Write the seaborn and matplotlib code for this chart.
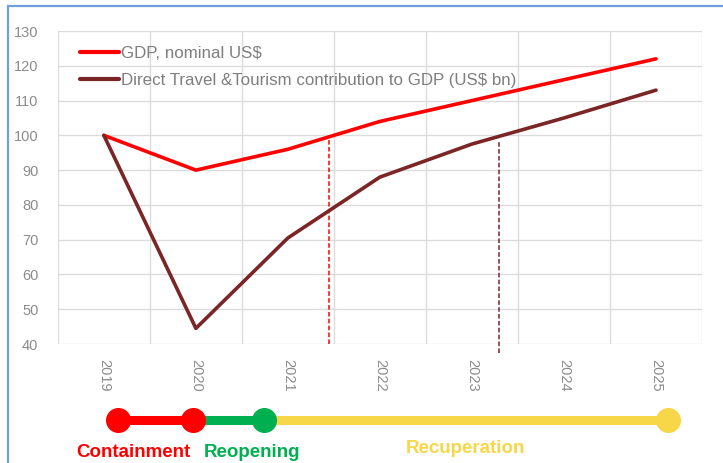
import matplotlib
matplotlib.use("Agg")
import matplotlib.pyplot as plt
import seaborn as sns
import pandas as pd
from matplotlib.patches import Rectangle

years = ["2019", "2020", "2021", "2022", "2023", "2024", "2025"]
gdp = [100, 90, 96, 104, 110, 116, 122]
tourism = [100, 44.5, 70.5, 88, 97.5, 105, 113]

series_names = ["GDP, nominal US$", "Direct Travel &Tourism contribution to GDP (US$ bn)"]
series_colors = ["#ff0000", "#7b2526"]

# recovery markers: category position, top value, bottom value
recovery_x = [2.45, 4.29]
recovery_top = [100, 98]
recovery_bottom = [40, 37.5]
recovery_colors = ["#ff0000", "#7b2526"]

# phase timeline under the axis
phase_x = [0.15, 0.97, 1.74, 6.13]
phase_colors = ["#ff0000", "#00b050", "#f7d748"]
phase_labels = ["Containment", "Reopening", "Recuperation"]
phase_label_x = [0.32, 1.61, 3.93]
phase_label_y = [0.09, 0.09, 0.125]
phase_label_colors = ["#ff0000", "#00b050", "#f7d748"]

sns.set_theme(style="white")
plt.rcParams["font.family"] = ["Liberation Sans", "DejaVu Sans"]

df = pd.DataFrame({
    "year": years * 2,
    "value": gdp + tourism,
    "series": [series_names[0]] * len(years) + [series_names[1]] * len(years),
})

fig = plt.figure(figsize=(7.23, 4.63), dpi=100)
ax = fig.add_axes([0.080, 0.257, 0.891, 0.676])

sns.lineplot(data=df, x="year", y="value", hue="series", palette=series_colors,
             sort=False, linewidth=2.6, ax=ax)

ax.set_xlim(-0.5, 6.5)
ax.set_ylim(40, 130)
ax.set_yticks(range(40, 131, 10))
ax.set_xticks(range(len(years)))
ax.set_xticklabels(years, rotation=-90)
ax.set_xticks([i - 0.5 for i in range(len(years) + 1)], minor=True)
ax.grid(False)
ax.grid(True, which="minor", axis="x", color="#dcdcdc", linewidth=1)
ax.grid(True, which="major", axis="y", color="#dcdcdc", linewidth=1)
ax.set_axisbelow(True)
for s in ax.spines.values():
    s.set_visible(False)
ax.tick_params(axis="both", which="both", length=0, colors="#8c8c8c", labelsize=10.5)
ax.tick_params(axis="x", pad=11)
ax.tick_params(axis="y", pad=14)
ax.set_xlabel("")
ax.set_ylabel("")

for x, top, bot, c in zip(recovery_x, recovery_top, recovery_bottom, recovery_colors):
    ax.vlines(x, bot, top, colors=c, linestyles=(0, (3, 1.5)), linewidth=1.1,
              clip_on=False, zorder=1)

leg = ax.legend(loc="upper left", bbox_to_anchor=(0.016, 0.99), frameon=False,
                fontsize=12.2, handlelength=2.3, handletextpad=0.1,
                labelspacing=0.7, borderaxespad=0.3)
for t in leg.get_texts():
    t.set_color("#7f7f7f")
for h in leg.get_lines():
    h.set_linewidth(3)

# timeline axis on the same category scale
tl = fig.add_axes([0.080, 0.0, 0.891, 0.257])
tl.set_xlim(-0.5, 6.5)
tl.set_ylim(0, 1)
tl.axis("off")
ty = 0.36
for i, c in enumerate(phase_colors):
    tl.plot([phase_x[i], phase_x[i + 1]], [ty, ty], color=c, linewidth=6.5,
            solid_capstyle="butt", zorder=1)
marker_colors = [phase_colors[0], phase_colors[0], phase_colors[1], phase_colors[2]]
for x, c in zip(phase_x, marker_colors):
    tl.plot([x], [ty], "o", color=c, markersize=17, zorder=2)
for x, y, lab, c in zip(phase_label_x, phase_label_y, phase_labels, phase_label_colors):
    tl.text(x, y, lab, color=c, fontsize=13.5, fontweight="bold",
            ha="center", va="center")

fig.patches.append(Rectangle((8 / 723, -0.1), 1.1, 1 - 6 / 463 + 0.1,
                             transform=fig.transFigure, fill=False,
                             edgecolor="#6fa0dc", linewidth=1.6))

fig.savefig("out.png", dpi=100)
